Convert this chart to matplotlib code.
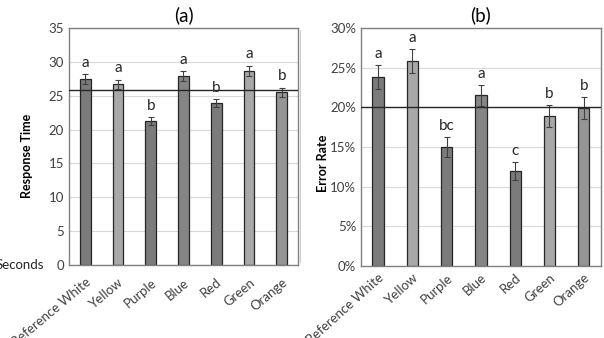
import matplotlib.pyplot as plt
from matplotlib.lines import Line2D
from matplotlib.ticker import FuncFormatter

plt.rcParams['font.family'] = ['Lato', 'DejaVu Sans']

colors = ["Reference White", "Yellow", "Purple", "Blue", "Red", "Green", "Orange"]
bar_colors = ["#7b7b7b", "#a8a8a8", "#7b7b7b", "#858585", "#7b7b7b", "#a8a8a8", "#959595"]

resp_time = [27.5, 26.7, 21.3, 27.9, 23.9, 28.7, 25.5]
resp_err = [0.75, 0.7, 0.55, 0.75, 0.6, 0.75, 0.7]
resp_letters = ["a", "a", "b", "a", "b", "a", "b"]
resp_mean = 25.85

err_rate = [23.8, 25.8, 15.0, 21.5, 12.0, 18.9, 19.9]
err_err = [1.5, 1.5, 1.3, 1.35, 1.1, 1.35, 1.4]
err_letters = ["a", "a", "bc", "a", "c", "b", "b"]
err_mean = 20.0

fig = plt.figure(figsize=(6.04, 3.38), dpi=100)
ax1 = fig.add_axes([0.1142, 0.216, 0.3792, 0.701])
ax2 = fig.add_axes([0.5977, 0.213, 0.397, 0.704])


def draw_panel(ax, vals, errs, letters, mean, ymax, step, title, pct, xfs, rot, pad):
    x = range(len(colors))
    ax.set_axisbelow(True)
    ax.yaxis.grid(True, color="#d9d9d9", lw=0.8)
    ax.bar(x, vals, width=0.33, color=bar_colors, edgecolor="#262626", lw=0.9, zorder=2)
    ax.errorbar(x, vals, yerr=errs, fmt="none", ecolor="#404040", elinewidth=0.8,
                capsize=2.5, capthick=0.8, zorder=3)
    for i, (v, e, l) in enumerate(zip(vals, errs, letters)):
        ax.annotate(l, (i, v + e), xytext=(0, 3), textcoords="offset points",
                    ha="center", va="bottom", fontsize=11, color="#262626")
    ax.axhline(mean, color="#262626", lw=1.0, zorder=4)
    ax.set_xlim(-0.5, len(colors) - 0.5)
    ax.set_ylim(0, ymax)
    ax.set_yticks([i * step for i in range(int(ymax / step) + 1)])
    if pct:
        ax.yaxis.set_major_formatter(FuncFormatter(lambda v, p: f"{v:.0f}%"))
    ax.set_xticks(list(x))
    ax.set_xticklabels(colors, rotation=rot, ha="right", va="top", rotation_mode="anchor",
                       fontsize=xfs, color="#404040")
    ax.tick_params(axis="both", length=0, labelsize=9.5, labelcolor="#404040")
    ax.tick_params(axis="x", pad=pad)
    for s in ax.spines.values():
        s.set_color("#808080")
        s.set_linewidth(1.0)
    ax.set_title(title, fontsize=13.5, pad=5)


draw_panel(ax1, resp_time, resp_err, resp_letters, resp_mean, 35, 5, "(a)", False, 9, 40, 8)
draw_panel(ax2, err_rate, err_err, err_letters, err_mean, 30, 5, "(b)", True, 7, 42, 4)

ax1.set_ylabel("Response Time", fontsize=9, fontweight="bold")
ax1.yaxis.set_label_coords(-0.155, 0.46)
ax2.set_ylabel("Error Rate", fontsize=9, fontweight="bold")
ax2.yaxis.set_label_coords(-0.135, 0.43)

fig.text(44 / 604, 1 - 265 / 338, "Seconds", ha="right", va="center", fontsize=9.5, color="#262626")

fig.add_artist(Line2D([300 / 604, 300 / 604], [1 - 30 / 338, 1 - 262 / 338],
                      color="#d0d0d0", lw=0.8, transform=fig.transFigure))

fig.savefig("out.png", dpi=100)
